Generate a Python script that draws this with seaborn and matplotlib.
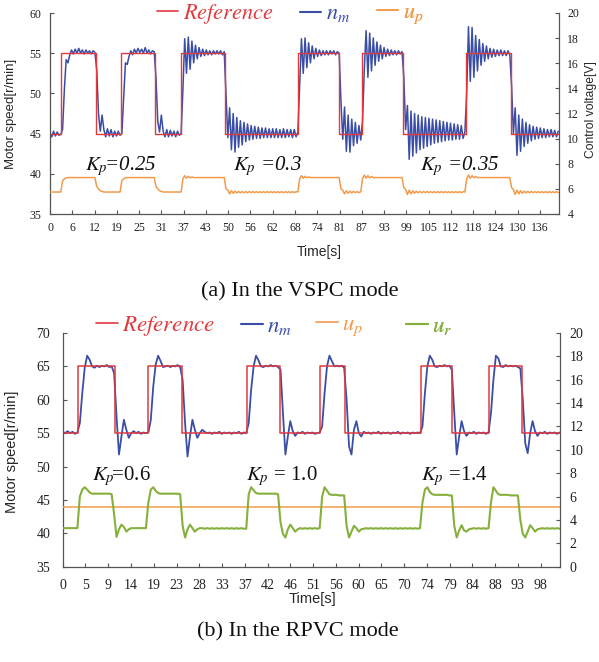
import numpy as np
import matplotlib
matplotlib.use("Agg")
import matplotlib.pyplot as plt
import seaborn as sns
from matplotlib.lines import Line2D

sns.set_theme(style="white")
plt.rcParams["font.family"] = ["Liberation Serif", "DejaVu Serif"]
plt.rcParams["mathtext.fontset"] = "stix"

RED = "#e0393e"
BLUE = "#3b4ea6"
ORANGE = "#f29b4c"
GREEN = "#86b03c"
SPINE = "#555555"
SANS = ["Liberation Sans", "DejaVu Sans"]

DT = 0.5  # sampling step of the recorded traces [s]

# ---------------- (a) VSPC mode ----------------
vspc_ref_t = [0.0, 3.0, 12.7, 19.8, 29.1, 36.6, 48.6, 69.0, 80.5, 86.8, 98.3, 115.7, 128.3, 141.7]
vspc_ref = [45, 55, 45, 55, 45, 55, 45, 55, 45, 55, 45, 55, 45, 45]

vspc_nm = [
    45.0, 44.6, 45.3, 44.7, 45.2, 44.8, 44.9, 45.5, 50.5, 54.2,
    53.8, 54.8, 55.4, 54.9, 55.5, 55.0, 55.6, 55.0, 55.4, 54.9,
    55.4, 55.0, 55.3, 54.9, 55.3, 55.1, 53.0, 47.5, 45.3, 47.3,
    45.5, 44.6, 45.6, 44.7, 45.5, 44.6, 45.3, 44.7, 45.3, 44.8,
    45.0, 49.5, 53.8, 53.6, 54.6, 55.3, 54.8, 55.5, 55.0, 55.6,
    55.1, 55.5, 55.0, 55.7, 55.0, 55.4, 54.9, 55.3, 55.2, 52.0,
    46.5, 45.2, 47.3, 45.3, 44.6, 45.5, 44.6, 45.4, 44.7, 45.3,
    44.6, 45.3, 44.8, 45.0, 50.5, 56.8, 52.5, 57.0, 53.0, 56.5,
    53.8, 56.0, 54.3, 55.7, 54.6, 55.5, 54.7, 55.4, 54.8, 55.3,
    54.8, 55.3, 54.9, 55.3, 54.9, 55.3, 54.8, 55.2, 50.0, 44.5,
    48.2, 43.0, 47.5, 42.7, 47.0, 43.3, 46.6, 43.6, 46.4, 44.0,
    46.2, 44.2, 46.0, 44.3, 45.9, 44.4, 45.8, 44.4, 45.7, 44.5,
    45.7, 44.5, 45.6, 44.5, 45.6, 44.5, 45.6, 44.5, 45.5, 44.5,
    45.6, 44.5, 45.5, 44.6, 45.5, 44.5, 45.5, 44.6, 45.2, 51.0,
    56.8, 52.5, 56.9, 53.2, 56.3, 53.8, 55.9, 54.3, 55.6, 54.6,
    55.4, 54.7, 55.3, 54.8, 55.3, 54.8, 55.3, 54.9, 55.3, 54.8,
    55.2, 55.0, 49.0, 44.3, 48.3, 42.8, 47.3, 42.7, 46.8, 43.5,
    46.4, 43.8, 46.0, 44.2, 46.5, 53.0, 57.8, 52.0, 57.5, 52.8,
    56.9, 53.5, 56.4, 54.0, 56.0, 54.3, 55.7, 54.6, 55.5, 54.7,
    55.4, 54.8, 55.3, 54.8, 55.3, 54.9, 55.2, 52.0, 45.5, 48.5,
    41.8, 47.8, 42.2, 47.5, 42.6, 47.3, 43.0, 47.1, 43.2, 47.0,
    43.4, 46.9, 43.6, 46.8, 43.8, 46.7, 43.9, 46.6, 44.0, 46.5,
    44.1, 46.4, 44.2, 46.3, 44.2, 46.2, 44.3, 46.1, 44.3, 46.0,
    44.4, 45.2, 50.0, 58.3, 51.5, 58.2, 52.0, 57.2, 52.8, 56.7,
    53.5, 56.2, 54.0, 55.9, 54.3, 55.6, 54.5, 55.5, 54.6, 55.4,
    54.7, 55.4, 54.7, 55.3, 54.7, 55.3, 54.8, 51.0, 45.0, 48.2,
    42.3, 47.3, 42.8, 46.8, 43.4, 46.4, 43.8, 46.1, 44.1, 45.9,
    44.3, 45.8, 44.4, 45.7, 44.5, 45.6, 44.5, 45.5, 44.6, 45.5,
    44.6, 45.4, 44.6, 45.3,
]

vspc_up = [
    5.75, 5.75, 5.75, 5.75, 5.75, 5.75, 5.75, 6.65, 6.80, 6.88,
    6.90, 6.90, 6.90, 6.90, 6.90, 6.90, 6.90, 6.90, 6.90, 6.90,
    6.90, 6.90, 6.90, 6.90, 6.90, 6.90, 6.20, 6.00, 5.85, 5.80,
    5.75, 5.75, 5.75, 5.75, 5.75, 5.75, 5.75, 5.75, 5.75, 5.75,
    6.65, 6.80, 6.88, 6.90, 6.90, 6.90, 6.90, 6.90, 6.90, 6.90,
    6.90, 6.90, 6.90, 6.90, 6.90, 6.90, 6.90, 6.90, 6.90, 6.20,
    6.00, 5.85, 5.80, 5.75, 5.75, 5.75, 5.75, 5.75, 5.75, 5.75,
    5.75, 5.75, 5.75, 5.75, 6.80, 7.05, 6.85, 7.00, 6.88, 6.95,
    6.90, 6.90, 6.90, 6.90, 6.90, 6.90, 6.90, 6.90, 6.90, 6.90,
    6.90, 6.90, 6.90, 6.90, 6.90, 6.90, 6.90, 6.90, 6.00, 5.90,
    5.60, 5.85, 5.65, 5.82, 5.67, 5.80, 5.68, 5.79, 5.69, 5.79,
    5.69, 5.79, 5.70, 5.78, 5.70, 5.78, 5.70, 5.78, 5.70, 5.78,
    5.70, 5.78, 5.70, 5.78, 5.70, 5.78, 5.70, 5.78, 5.70, 5.78,
    5.70, 5.78, 5.70, 5.78, 5.70, 5.78, 5.70, 5.78, 5.75, 6.80,
    7.05, 6.85, 7.00, 6.88, 6.95, 6.90, 6.90, 6.90, 6.90, 6.90,
    6.90, 6.90, 6.90, 6.90, 6.90, 6.90, 6.90, 6.90, 6.90, 6.90,
    6.90, 6.90, 6.00, 5.90, 5.60, 5.85, 5.65, 5.82, 5.68, 5.80,
    5.70, 5.78, 5.70, 5.76, 6.80, 7.10, 6.85, 7.05, 6.88, 6.98,
    6.90, 6.90, 6.90, 6.90, 6.90, 6.90, 6.90, 6.90, 6.90, 6.90,
    6.90, 6.90, 6.90, 6.90, 6.90, 6.90, 6.90, 6.10, 5.95, 5.55,
    5.90, 5.60, 5.85, 5.65, 5.82, 5.68, 5.80, 5.69, 5.79, 5.70,
    5.78, 5.70, 5.78, 5.70, 5.78, 5.70, 5.78, 5.70, 5.78, 5.70,
    5.78, 5.70, 5.78, 5.70, 5.78, 5.70, 5.78, 5.70, 5.78, 5.70,
    5.78, 5.75, 6.80, 7.10, 6.85, 7.05, 6.88, 6.98, 6.90, 6.90,
    6.90, 6.90, 6.90, 6.90, 6.90, 6.90, 6.90, 6.90, 6.90, 6.90,
    6.90, 6.90, 6.90, 6.90, 6.90, 6.90, 6.90, 6.10, 5.95, 5.55,
    5.90, 5.60, 5.85, 5.65, 5.82, 5.68, 5.80, 5.69, 5.79, 5.70,
    5.78, 5.70, 5.78, 5.70, 5.78, 5.70, 5.78, 5.70, 5.78, 5.70,
    5.78, 5.70, 5.78, 5.70,
]

vspc_tick_step = 6.2
vspc_tick_labels = ["0", "6", "12", "19", "25", "31", "37", "43", "50", "56", "62", "68",
                    "74", "81", "87", "93", "99", "105", "112", "118", "124", "130", "136"]
vspc_xmax = 141.7
vspc_gains = [r"$K_p\!$=0.25", r"$K_p$ =0.3", r"$K_p$ =0.35"]

# ---------------- (b) RPVC mode ----------------
rpvc_ref_t = [0.0, 3.06, 10.7, 17.4, 24.3, 37.6, 44.4, 52.6, 57.7, 73.3, 79.5, 87.0, 93.8, 101.6]
rpvc_ref = [55, 65, 55, 65, 55, 65, 55, 65, 55, 65, 55, 65, 55, 55]

rpvc_nm = [
    55.2, 55.0, 55.3, 55.0, 55.2, 54.9, 55.1, 56.5, 61.0, 64.8,
    66.6, 66.0, 65.0, 64.8, 65.1, 64.9, 65.1, 65.0, 65.2, 64.9,
    65.0, 64.0, 57.5, 51.8, 54.5, 57.0, 55.5, 54.3, 55.0, 55.3,
    55.0, 55.2, 54.9, 55.1, 55.0, 55.1, 57.0, 62.0, 65.3, 66.6,
    65.8, 64.9, 65.0, 65.1, 64.9, 65.1, 65.0, 65.2, 64.9, 63.0,
    56.5, 51.5, 54.5, 57.0, 55.5, 54.3, 55.0, 55.5, 55.2, 55.0,
    55.1, 54.9, 55.1, 55.0, 55.2, 54.9, 55.1, 55.0, 55.1, 54.9,
    55.1, 55.0, 55.2, 54.9, 55.1, 55.0, 56.5, 61.5, 65.0, 66.6,
    65.9, 65.0, 64.9, 65.1, 65.0, 65.2, 65.0, 65.1, 64.9, 64.5,
    58.0, 51.8, 54.5, 56.8, 55.3, 54.6, 55.1, 55.0, 55.2, 54.9,
    55.1, 55.0, 55.1, 54.9, 55.0, 55.1, 56.0, 61.0, 65.0, 66.6,
    65.8, 65.0, 65.1, 65.0, 65.1, 64.8, 60.0, 53.0, 51.8, 55.5,
    56.8, 55.0, 54.5, 55.2, 55.0, 55.1, 54.9, 55.1, 55.0, 55.2,
    54.9, 55.1, 55.0, 55.1, 54.9, 55.1, 55.0, 55.2, 54.9, 55.1,
    55.0, 55.1, 54.9, 55.1, 55.0, 55.1, 55.0, 56.0, 61.0, 65.0,
    66.6, 66.0, 65.0, 64.9, 65.1, 65.0, 65.2, 65.0, 65.1, 64.5,
    58.0, 51.8, 54.5, 56.8, 55.3, 54.6, 55.1, 55.0, 55.2, 54.9,
    55.1, 55.0, 55.1, 54.9, 55.1, 58.0, 63.0, 66.6, 66.2, 65.0,
    64.9, 65.2, 65.0, 65.1, 65.0, 65.1, 64.9, 64.7, 60.0, 53.5,
    52.0, 55.0, 56.8, 55.3, 54.6, 55.1, 55.0, 55.2, 54.9, 55.1,
    55.0, 55.1, 54.9, 55.1,
]

rpvc_ur = [
    3.30, 3.30, 3.30, 3.30, 3.30, 3.30, 3.30, 6.00, 6.60, 6.80,
    6.60, 6.35, 6.25, 6.25, 6.25, 6.25, 6.25, 6.25, 6.25, 6.25,
    6.20, 4.50, 2.55, 3.20, 3.60, 3.40, 3.00, 3.20, 3.30, 3.30,
    3.30, 3.30, 3.30, 3.30, 3.30, 5.50, 6.60, 6.80, 6.50, 6.30,
    6.25, 6.25, 6.25, 6.25, 6.25, 6.25, 6.25, 6.25, 6.20, 3.50,
    2.50, 3.20, 3.60, 3.30, 3.00, 3.20, 3.30, 3.30, 3.25, 3.30,
    3.25, 3.30, 3.25, 3.30, 3.25, 3.30, 3.25, 3.30, 3.25, 3.30,
    3.25, 3.30, 3.25, 3.30, 3.25, 3.25, 6.20, 6.80, 6.55, 6.30,
    6.25, 6.25, 6.25, 6.25, 6.25, 6.25, 6.25, 6.25, 6.20, 3.80,
    2.80, 2.50, 3.20, 3.60, 3.30, 3.00, 3.20, 3.30, 3.25, 3.30,
    3.25, 3.30, 3.25, 3.30, 3.25, 3.30, 6.00, 6.80, 6.50, 6.20,
    6.15, 6.15, 6.15, 6.10, 6.10, 6.10, 3.50, 2.50, 3.00, 3.50,
    3.30, 3.00, 3.20, 3.25, 3.30, 3.25, 3.30, 3.25, 3.30, 3.25,
    3.30, 3.25, 3.30, 3.25, 3.30, 3.25, 3.30, 3.25, 3.30, 3.25,
    3.30, 3.25, 3.30, 3.25, 3.30, 3.25, 3.30, 5.50, 6.60, 6.80,
    6.40, 6.20, 6.15, 6.15, 6.15, 6.15, 6.15, 6.15, 6.10, 6.10,
    3.50, 2.50, 3.10, 3.55, 3.10, 3.00, 3.20, 3.25, 3.30, 3.25,
    3.30, 3.25, 3.30, 3.25, 3.30, 5.50, 6.80, 6.50, 6.20, 6.15,
    6.15, 6.15, 6.15, 6.10, 6.10, 6.10, 6.10, 4.00, 2.80, 2.50,
    3.00, 3.55, 3.30, 3.00, 3.20, 3.25, 3.30, 3.25, 3.30, 3.25,
    3.30, 3.25, 3.30, 3.25,
]
rpvc_up = 5.1  # constant control voltage u_p [V]

rpvc_tick_step = 4.65
rpvc_tick_labels = ["0", "5", "9", "14", "19", "23", "28", "33", "37", "42", "46",
                    "51", "56", "60", "65", "70", "74", "79", "84", "88", "93", "98"]
rpvc_xmax = 101.6
rpvc_gains = [r"$K_p\!$=0.6", r"$K_p$ = 1.0", r"$K_p$ =1.4"]

# ---------------- figure ----------------
W, H = 599, 662
fig = plt.figure(figsize=(W / 100, H / 100), dpi=100)
fig.patch.set_facecolor("white")


def px_box(x0, y0, x1, y1):
    return [x0 / W, 1 - y1 / H, (x1 - x0) / W, (y1 - y0) / H]


ax_a = fig.add_axes(px_box(50, 13, 559, 214))
ax_a2 = ax_a.twinx()
ax_b = fig.add_axes(px_box(62.7, 333, 560, 566.7))
ax_b2 = ax_b.twinx()

line_kw = dict(estimator=None, errorbar=None, sort=False, legend=False)

# (a) traces
t_a_nm = np.arange(len(vspc_nm)) * DT
t_a_up = np.arange(len(vspc_up)) * DT
sns.lineplot(x=t_a_nm, y=vspc_nm, ax=ax_a, color=BLUE, lw=1.1, **line_kw)
sns.lineplot(x=vspc_ref_t, y=vspc_ref, ax=ax_a, color=RED, lw=1.0,
             drawstyle="steps-post", **line_kw)
sns.lineplot(x=t_a_up, y=vspc_up, ax=ax_a2, color=ORANGE, lw=1.1, **line_kw)

# (b) traces
t_b_nm = np.arange(len(rpvc_nm)) * DT
t_b_ur = np.arange(len(rpvc_ur)) * DT
sns.lineplot(x=t_b_nm, y=rpvc_nm, ax=ax_b, color=BLUE, lw=1.3, **line_kw)
sns.lineplot(x=rpvc_ref_t, y=rpvc_ref, ax=ax_b, color=RED, lw=1.1,
             drawstyle="steps-post", **line_kw)
ax_b2.axhline(rpvc_up, color=ORANGE, lw=1.1)
sns.lineplot(x=t_b_ur, y=rpvc_ur, ax=ax_b2, color=GREEN, lw=1.5, **line_kw)


def style_pair(ax, ax2, xmax, ylim, ylim2, yt, yt2, step, labels, tick_fs, pads):
    ax.set_xlim(0, xmax)
    ax.set_ylim(*ylim)
    ax2.set_ylim(*ylim2)
    ax.set_xticks(np.arange(len(labels)) * step, labels)
    ax.set_yticks(yt)
    ax2.set_yticks(yt2)
    for a in (ax, ax2):
        a.set_facecolor("none")
        a.grid(False)
        for s in a.spines.values():
            s.set_color(SPINE)
            s.set_linewidth(0.9)
        a.spines["top"].set_visible(False)
    ax.spines["right"].set_visible(False)
    ax2.spines["left"].set_visible(False)
    ax2.spines["bottom"].set_visible(False)
    ax.tick_params(axis="x", bottom=True, direction="in", length=3, width=0.8,
                   color=SPINE, labelsize=tick_fs, pad=pads[0], labelcolor="#222")
    ax.tick_params(axis="y", left=True, direction="in", length=3, width=0.8,
                   color=SPINE, labelsize=tick_fs, pad=pads[1], labelcolor="#222")
    ax2.tick_params(axis="y", right=True, direction="in", length=3, width=0.8,
                    color=SPINE, labelsize=tick_fs, pad=pads[2], labelcolor="#222")
    ax.set_xlabel("")
    ax.set_ylabel("")
    ax2.set_ylabel("")


style_pair(ax_a, ax_a2, vspc_xmax, (35, 60), (4, 20), range(35, 61, 5), range(4, 21, 2),
           vspc_tick_step, vspc_tick_labels, 8.5, (6, 6, 6))
style_pair(ax_b, ax_b2, rpvc_xmax, (35, 70), (0, 20), range(35, 71, 5), range(0, 21, 2),
           rpvc_tick_step, rpvc_tick_labels, 10, (9, 9, 7))

# axis titles
ax_a.set_xlabel("Time[s]", fontsize=10, family=SANS)
ax_a.xaxis.set_label_coords(0.529, -0.155)
ax_a.set_ylabel("Motor speed[r/min]", fontsize=9.5, family=SANS)
ax_a.yaxis.set_label_coords(-0.064, 0.5)
ax_a2.set_ylabel("Control voltage[V]", fontsize=8.7, family=SANS)
ax_a2.yaxis.set_label_coords(1.052, 0.52)

ax_b.set_xlabel("Time[s]", fontsize=10.5, family=SANS)
ax_b.xaxis.set_label_coords(0.503, -0.11)
ax_b.set_ylabel("Motor speed[r/min]", fontsize=10.5, family=SANS)
ax_b.yaxis.set_label_coords(-0.087, 0.49)

# gain annotations
for x, s in zip([0.069, 0.360, 0.727], vspc_gains):
    ax_a.text(x, 0.219, s, transform=ax_a.transAxes, fontsize=15,
              fontstyle="italic", va="baseline", ha="left", color="#111")
for x, s in zip([0.059, 0.368, 0.720], rpvc_gains):
    ax_b.text(x, 0.371, s, transform=ax_b.transAxes, fontsize=15,
              va="baseline", ha="left", color="#111")


# legend entries, each anchored at the start of its line sample
def legend_entry(ax, label, color, lw, x_px, y_px, fs):
    handle = Line2D([], [], color=color, lw=lw)
    leg = ax.legend([handle], [label], loc="center left",
                    bbox_to_anchor=(x_px / W, 1 - y_px / H),
                    bbox_transform=fig.transFigure, frameon=False, fontsize=fs,
                    handlelength=0.95, handletextpad=0.2, labelcolor=[color],
                    borderpad=0, borderaxespad=0)
    ax.add_artist(leg)


legend_a = [(r"$\mathit{Reference}$", RED, 1.2, 157),
            (r"$n_m$", BLUE, 1.5, 300),
            (r"$u_p$", ORANGE, 1.2, 377)]
for lab, col, lw, x in legend_a:
    legend_entry(ax_a2, lab, col, lw, x, 14, 16)

legend_b = [(r"$\mathit{Reference}$", RED, 1.2, 96),
            (r"$n_m$", BLUE, 1.5, 241),
            (r"$u_p$", ORANGE, 1.2, 316),
            (r"$u_r$", GREEN, 1.5, 406)]
for lab, col, lw, x in legend_b:
    legend_entry(ax_b2, lab, col, lw, x, 326, 16.5)

# captions
fig.text(300 / W, 1 - 292 / H, "(a) In the VSPC mode", ha="center", va="center",
         fontsize=16, color="#111")
fig.text(298 / W, 1 - 632 / H, "(b) In the RPVC mode", ha="center", va="center",
         fontsize=16, color="#111")

fig.savefig("out.png", dpi=100, facecolor="white")
